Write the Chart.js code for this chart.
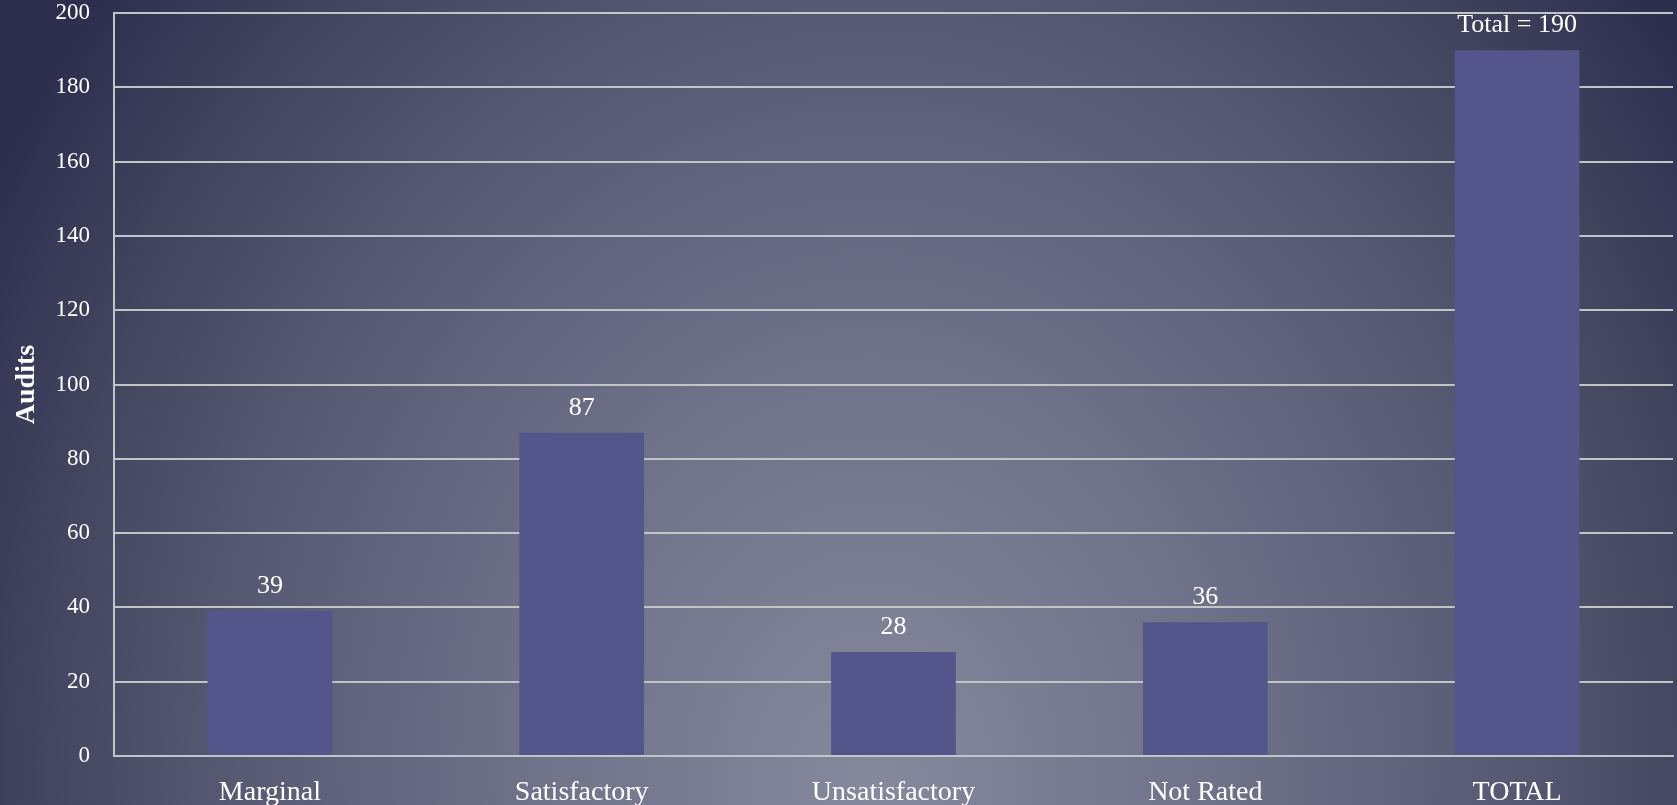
<!DOCTYPE html>
<html>
<head>
<meta charset="utf-8">
<script src="https://cdn.jsdelivr.net/npm/chart.js@4/dist/chart.umd.min.js"></script>
<style>
  html, body { margin: 0; padding: 0; }
  body {
    width: 1677px; height: 805px; overflow: hidden;
    background: radial-gradient(ellipse 60% 150% at 52% 96%, #86889c 0%, #6f7189 35%, #595b75 62%, #44465f 82%, #2e2f4f 100%);
  }
  canvas { display: block; }
</style>
</head>
<body>
<canvas id="myChart" width="1677" height="805"></canvas>
<script>
// data
const categories = ['Marginal', 'Satisfactory', 'Unsatisfactory', 'Not Rated', 'TOTAL'];
const audits = [39, 87, 28, 36, 190];
const barLabels = ['39', '87', '28', '36', 'Total = 190'];
const yTicks = [0, 20, 40, 60, 80, 100, 120, 140, 160, 180, 200];

const serif = '"Liberation Serif", "DejaVu Serif", serif';

// draws the numbers above each bar
const barLabelPlugin = {
    id: 'barLabels',
    afterDatasetsDraw(chart) {
        const ctx = chart.ctx;
        const meta = chart.getDatasetMeta(0);
        ctx.save();
        ctx.fillStyle = '#ffffff';
        ctx.font = '26px ' + serif;
        ctx.textAlign = 'center';
        ctx.textBaseline = 'middle';
        meta.data.forEach((bar, i) => {
            ctx.fillText(barLabels[i], bar.x, bar.y - 25);
        });
        ctx.restore();
    }
};

const ctx = document.querySelector('#myChart').getContext('2d');
const myChart = new Chart(ctx, {
    type: 'bar',
    data: {
        labels: categories,
        datasets: [{
            label: 'Audits',
            data: audits,
            backgroundColor: '#54558a',
            borderWidth: 0,
            categoryPercentage: 1,
            barPercentage: 0.4
        }]
    },
    options: {
        responsive: false,
        animation: false,
        layout: { padding: { top: 13, right: 4, left: 0, bottom: 0 } },
        plugins: {
            legend: { display: false },
            tooltip: { enabled: false }
        },
        scales: {
            x: {
                afterFit: (scale) => { scale.height = 49; },
                grid: { display: false, drawTicks: false },
                border: { color: '#c4c4c8', width: 2 },
                ticks: {
                    color: '#ffffff',
                    font: { family: serif, size: 28 },
                    padding: 20
                }
            },
            y: {
                min: 0,
                max: 200,
                afterFit: (scale) => {
                    scale.width = 114;
                    scale.paddingTop = 0;
                    scale.paddingBottom = 0;
                },
                afterBuildTicks: (scale) => { scale.ticks = yTicks.map(v => ({ value: v })); },
                grid: { color: '#c4c4c8', lineWidth: 2, drawTicks: false },
                border: { color: '#c4c4c8', width: 2 },
                ticks: {
                    color: '#ffffff',
                    font: { family: serif, size: 23 },
                    padding: 24
                },
                title: {
                    display: true,
                    text: 'Audits',
                    color: '#ffffff',
                    font: { family: serif, size: 28, weight: 'bold' },
                    padding: { top: 10, bottom: 0 }
                }
            }
        }
    },
    plugins: [barLabelPlugin]
});
</script>
</body>
</html>
